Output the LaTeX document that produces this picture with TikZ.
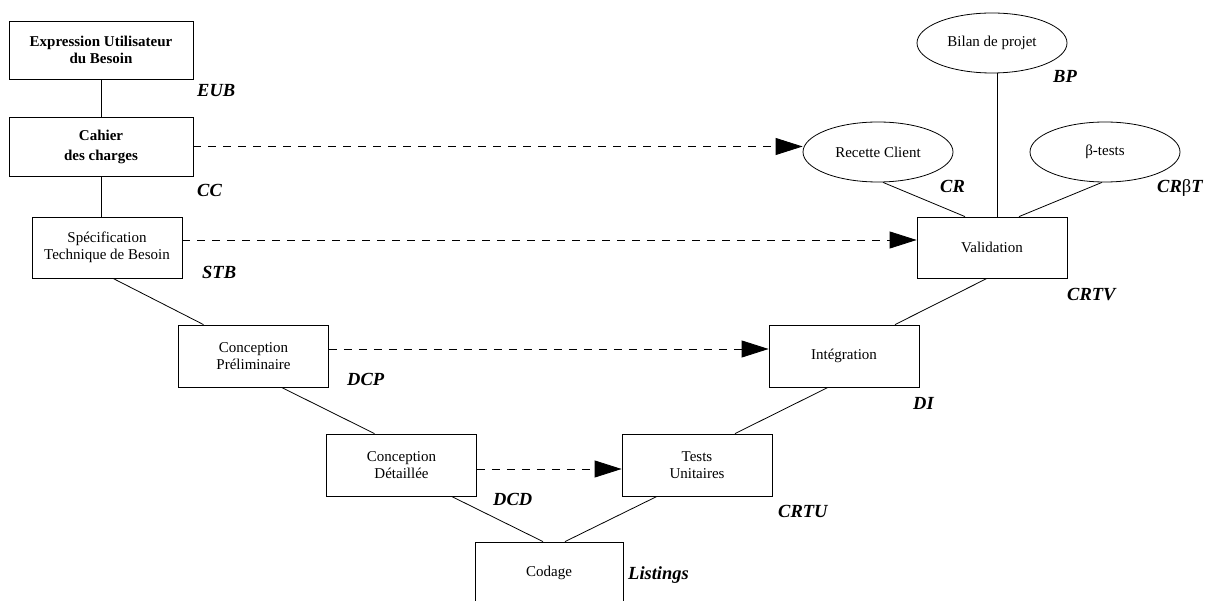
\documentclass[tikz,border=0pt]{standalone}
\usepackage{fontspec}
\setmainfont{Liberation Serif}
\usepackage{tikz}
\usetikzlibrary{shapes.geometric, arrows.meta, positioning}

\tikzset{
  etape/.style={draw, rectangle, line width=0.8pt, minimum width=150pt, minimum height=62pt, align=center, font=\fontsize{15}{17}\selectfont},
  bilan/.style={draw, ellipse, line width=0.8pt, minimum width=150pt, minimum height=60pt, inner sep=0pt, font=\fontsize{15}{17}\selectfont},
  doc/.style={anchor=base west, inner sep=0pt, font=\fontsize{18.5}{20}\selectfont\bfseries\itshape},
  lien/.style={line width=0.8pt},
  trace/.style={line width=0.8pt, dash pattern=on 8pt off 7pt, -{Triangle[length=27pt, width=17pt]}}
}

\begin{document}
\begin{tikzpicture}[x=1pt, y=-1pt]
        \useasboundingbox (0,0) rectangle (1211,601);
        \clip (0,0) rectangle (1211,601);

        % branche descendante
        \node[etape, minimum width=184pt, minimum height=58pt, font=\fontsize{15}{17}\selectfont\bfseries] (eub) at (101,50) {Expression Utilisateur\\du Besoin};
        \node[etape, minimum width=184pt, minimum height=59pt, font=\fontsize{15}{17}\selectfont\bfseries] (cc) at (101,146.5) {Cahier\\[3pt]des charges};
        \node[etape, minimum height=61pt] (stb) at (107,247.5) {Spécification\\Technique de Besoin};
        \node[etape] (cp) at (253.5,356) {Conception\\Préliminaire};
        \node[etape] (cd) at (401.5,465) {Conception\\Détaillée};
        \node[etape, minimum width=148pt] (cod) at (549,573) {Codage};

        % branche montante
        \node[etape] (tu) at (697,465) {Tests\\Unitaires};
        \node[etape] (integ) at (844,356) {Intégration};
        \node[etape, minimum height=61pt] (valid) at (992,247.5) {Validation};
        \node[bilan] (rc) at (878,152) {Recette Client};
        \node[bilan] (bp) at (992,43) {Bilan de projet};
        \node[bilan] (bt) at (1105,152) {β-tests};

        % documents
        \node[doc] (l1) at (197,97) {EUB};
        \node[doc] (l2) at (197,197) {CC};
        \node[doc] (l3) at (202,279) {STB};
        \node[doc] (l4) at (347,386) {DCP};
        \node[doc] (l5) at (493,506) {DCD};
        \node[doc] (l6) at (628,579) {Listings};
        \node[doc] (l7) at (778,518) {CRTU};
        \node[doc] (l8) at (913,410) {DI};
        \node[doc] (l9) at (1067,301) {CRTV};
        \node[doc] (l10) at (940,193) {CR};
        \node[doc] (l11) at (1053,83) {BP};
        \node[doc] (l12) at (1157,193) {CR{\fontsize{18.5}{20}\mdseries\upshape β}T};

        \draw[lien] (eub.south) -- (cc.north);
        \draw[lien] (cc.south) -- (cc.south |- stb.north);
        \draw[lien] ([xshift=6pt]stb.south) -- ([xshift=-50pt]cp.north);
        \draw[lien] ([xshift=28pt]cp.south) -- ([xshift=-27pt]cd.north);
        \draw[lien] ([xshift=50pt]cd.south) -- ([xshift=-6pt]cod.north);
        \draw[lien] ([xshift=16pt]cod.north) -- ([xshift=-40pt]tu.south);
        \draw[lien] ([xshift=38pt]tu.north) -- ([xshift=-16pt]integ.south);
        \draw[lien] ([xshift=51pt]integ.north) -- ([xshift=-5pt]valid.south);
        \draw[lien] ([xshift=5pt]rc.south) -- ([xshift=-27pt]valid.north);
        \draw[lien] ([xshift=5pt]bp.south) -- ([xshift=5pt]valid.north);
        \draw[lien] ([xshift=-3pt]bt.south) -- ([xshift=27pt]valid.north);

        \draw[trace] (cc.east) -- (cc.east -| rc.west);
        \draw[trace] ([yshift=7.5pt]stb.east) -- ([yshift=7.5pt]stb.east -| valid.west);
        \draw[trace] ([yshift=7pt]cp.east) -- ([yshift=7pt]cp.east -| integ.west);
        \draw[trace] ([yshift=-4pt]cd.east) -- ([yshift=-4pt]cd.east -| tu.west);
  \end{tikzpicture}
\end{document}
